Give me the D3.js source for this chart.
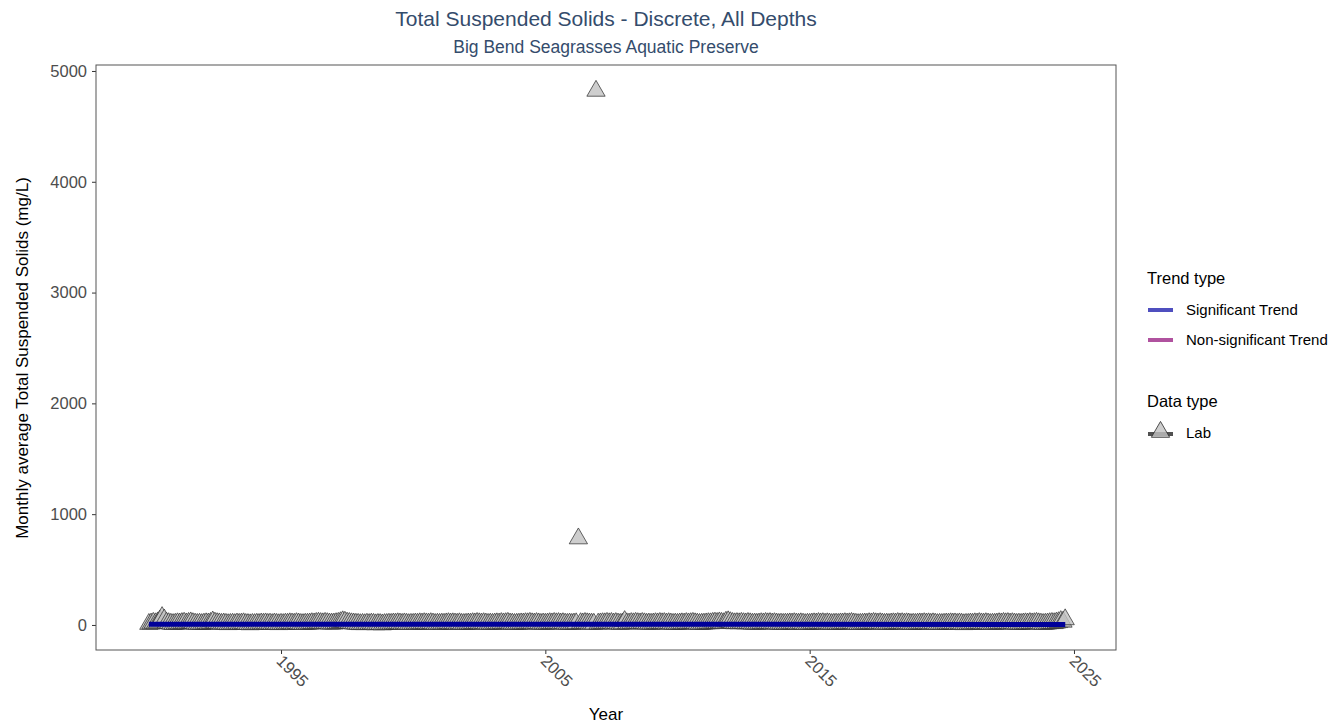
<!DOCTYPE html>
<html>
<head>
<meta charset="utf-8">
<script src="https://cdn.jsdelivr.net/npm/d3@7/dist/d3.min.js"></script>
<style>
  body { margin: 0; background: #fff; }
  svg text { font-family: "Liberation Sans", Arial, sans-serif; }
</style>
</head>
<body>
<div id="chart"></div>
<script>
// monthly average TSS (mg/L), one row per year, Jan..Dec
var years = d3.range(1990, 2025);
var monthlyValues = [
  [8, 12, 18, 14, 22, 40, 70, 48, 20, 15, 10, 7],
  [10, 14, 12, 16, 19, 13, 17, 22, 15, 11, 8, 10],
  [7, 11, 14, 12, 17, 30, 20, 15, 13, 9, 12, 9],
  [6, 8, 10, 7, 12, 9, 11, 14, 8, 7, 5, 8],
  [7, 10, 8, 12, 10, 13, 9, 11, 7, 12, 9, 6],
  [9, 7, 11, 10, 14, 12, 10, 15, 12, 8, 7, 10],
  [10, 12, 15, 13, 17, 19, 16, 14, 18, 15, 12, 11],
  [12, 15, 18, 24, 32, 28, 20, 17, 14, 12, 10, 9],
  [6, 8, 6, 10, 7, 11, 9, 5, 8, 7, 4, 7],
  [8, 10, 9, 12, 11, 14, 12, 9, 13, 10, 7, 9],
  [9, 12, 10, 14, 12, 15, 13, 11, 15, 12, 8, 10],
  [9, 11, 10, 13, 15, 12, 14, 12, 10, 14, 9, 8],
  [10, 12, 11, 15, 13, 17, 14, 12, 15, 12, 9, 11],
  [9, 12, 14, 12, 16, 13, 15, 18, 12, 11, 8, 10],
  [11, 13, 12, 15, 14, 18, 14, 12, 16, 13, 9, 12],
  [10, 12, 15, 13, 17, 14, 16, 12, 15, 11, 9, 12],
  [9, 12, 14, 780, 15, 13, 17, 14, 12, 11, 10, 4820],
  [11, 13, 15, 14, 18, 14, 17, 12, 16, 12, 9, 13],
  [34, 14, 12, 16, 14, 18, 15, 13, 17, 14, 10, 12],
  [10, 12, 15, 13, 17, 14, 16, 12, 15, 12, 9, 11],
  [9, 12, 14, 12, 16, 13, 15, 18, 14, 11, 8, 10],
  [11, 13, 15, 14, 18, 20, 17, 22, 18, 15, 28, 32],
  [24, 17, 14, 16, 14, 18, 15, 13, 17, 14, 10, 12],
  [10, 12, 15, 13, 17, 14, 16, 12, 15, 12, 9, 11],
  [9, 11, 10, 13, 12, 15, 12, 10, 14, 11, 7, 10],
  [9, 12, 14, 12, 16, 13, 15, 11, 14, 12, 8, 10],
  [11, 9, 13, 12, 15, 12, 14, 17, 13, 10, 7, 9],
  [10, 12, 11, 15, 13, 17, 14, 12, 15, 12, 9, 11],
  [9, 12, 14, 12, 16, 13, 15, 11, 14, 12, 8, 10],
  [9, 11, 13, 12, 15, 12, 14, 10, 14, 11, 7, 9],
  [8, 10, 12, 11, 14, 12, 13, 9, 13, 10, 6, 9],
  [9, 12, 10, 14, 12, 16, 13, 11, 15, 12, 8, 10],
  [10, 12, 15, 13, 17, 14, 16, 12, 15, 12, 9, 11],
  [9, 12, 14, 12, 16, 13, 15, 18, 14, 11, 8, 10],
  [12, 15, 17, 15, 20, 24, 34, 28, 50]
];
var trendYears = [1990.0, 2024.67];
var trendValues = [7, 5];
var yTicks = [0, 1000, 2000, 3000, 4000, 5000];
var xTicks = [1995, 2005, 2015, 2025];

var points = [];
years.forEach(function (yr, i) {
  monthlyValues[i].forEach(function (v, m) {
    points.push({ t: yr + m / 12, v: v });
  });
});

var W = 1333, H = 723;
var panel = { left: 96, right: 1116, top: 65, bottom: 650 };
var font = "'Liberation Sans', Arial, sans-serif";

var svg = d3.select("#chart").append("svg")
  .attr("width", W).attr("height", H);

var x = d3.scaleLinear().domain([1988.0, 2026.59]).range([panel.left, panel.right]);
var y = d3.scaleLinear().domain([-226, 5054]).range([panel.bottom, panel.top]);

// titles
svg.append("text").attr("x", 606).attr("y", 26).attr("text-anchor", "middle")
  .attr("font-size", 21).attr("fill", "#344c6c")
  .text("Total Suspended Solids - Discrete, All Depths");
svg.append("text").attr("x", 606).attr("y", 53).attr("text-anchor", "middle")
  .attr("font-size", 17.5).attr("fill", "#344c6c")
  .text("Big Bend Seagrasses Aquatic Preserve");

// axes
var yAxis = d3.axisLeft(y).tickValues(yTicks).tickFormat(d3.format("d")).tickSize(4).tickPadding(5);
var gy = svg.append("g").attr("transform", "translate(" + panel.left + ",0)").call(yAxis);
gy.select(".domain").remove();
gy.selectAll("line").attr("stroke", "#333");
gy.selectAll("text").attr("font-size", 16.5).attr("fill", "#4d4d4d").style("font-family", font);

var xAxis = d3.axisBottom(x).tickValues(xTicks).tickFormat(d3.format("d")).tickSize(4);
var gx = svg.append("g").attr("transform", "translate(0," + panel.bottom + ")").call(xAxis);
gx.select(".domain").remove();
gx.selectAll("line").attr("stroke", "#333");
gx.selectAll("text").attr("font-size", 16.5).attr("fill", "#4d4d4d").style("font-family", font)
  .attr("text-anchor", "start").attr("dy", null).attr("y", 0)
  .attr("transform", "translate(-6,12) rotate(45)");

svg.append("text").attr("x", 606).attr("y", 720).attr("text-anchor", "middle")
  .attr("font-size", 17).attr("fill", "#000").text("Year");
svg.append("text").attr("transform", "translate(28,358) rotate(-90)")
  .attr("text-anchor", "middle").attr("font-size", 17).attr("fill", "#000")
  .text("Monthly average Total Suspended Solids (mg/L)");

// points
var tri = d3.symbol().type(d3.symbolTriangle).size(145);
svg.append("g").selectAll("path").data(points).enter().append("path")
  .attr("d", tri)
  .attr("transform", function (d) { return "translate(" + x(d.t) + "," + y(d.v) + ")"; })
  .attr("fill", "#c2c2c2").attr("fill-opacity", 0.8)
  .attr("stroke", "#333").attr("stroke-opacity", 0.75).attr("stroke-width", 1);

// trend line
var line = d3.line().x(function (d) { return x(d[0]); }).y(function (d) { return y(d[1]); });
svg.append("path").datum(d3.zip(trendYears, trendValues))
  .attr("d", line).attr("stroke", "#000099").attr("stroke-width", 5).attr("fill", "none");

// panel border
svg.append("rect").attr("x", panel.left).attr("y", panel.top)
  .attr("width", panel.right - panel.left).attr("height", panel.bottom - panel.top)
  .attr("fill", "none").attr("stroke", "#555").attr("stroke-width", 1);

// legend
var lg = svg.append("g");
lg.append("text").attr("x", 1147).attr("y", 284).attr("font-size", 16.5).text("Trend type");
var trendKeys = [{ label: "Significant Trend", color: "#4f4fbf" }, { label: "Non-significant Trend", color: "#b0529f" }];
trendKeys.forEach(function (k, i) {
  var yy = 310 + i * 30;
  lg.append("line").attr("x1", 1148).attr("x2", 1173).attr("y1", yy).attr("y2", yy)
    .attr("stroke", k.color).attr("stroke-width", 4);
  lg.append("text").attr("x", 1186).attr("y", yy + 5).attr("font-size", 15).text(k.label);
});
lg.append("text").attr("x", 1147).attr("y", 407).attr("font-size", 16.5).text("Data type");
lg.append("line").attr("x1", 1148).attr("x2", 1173).attr("y1", 434).attr("y2", 434)
  .attr("stroke", "#333").attr("stroke-opacity", 0.85).attr("stroke-width", 4);
lg.append("path").attr("d", tri).attr("transform", "translate(1160.5,432)")
  .attr("fill", "#c2c2c2").attr("fill-opacity", 0.8)
  .attr("stroke", "#333").attr("stroke-opacity", 0.85).attr("stroke-width", 1);
lg.append("text").attr("x", 1186).attr("y", 438).attr("font-size", 15).text("Lab");
</script>
</body>
</html>
